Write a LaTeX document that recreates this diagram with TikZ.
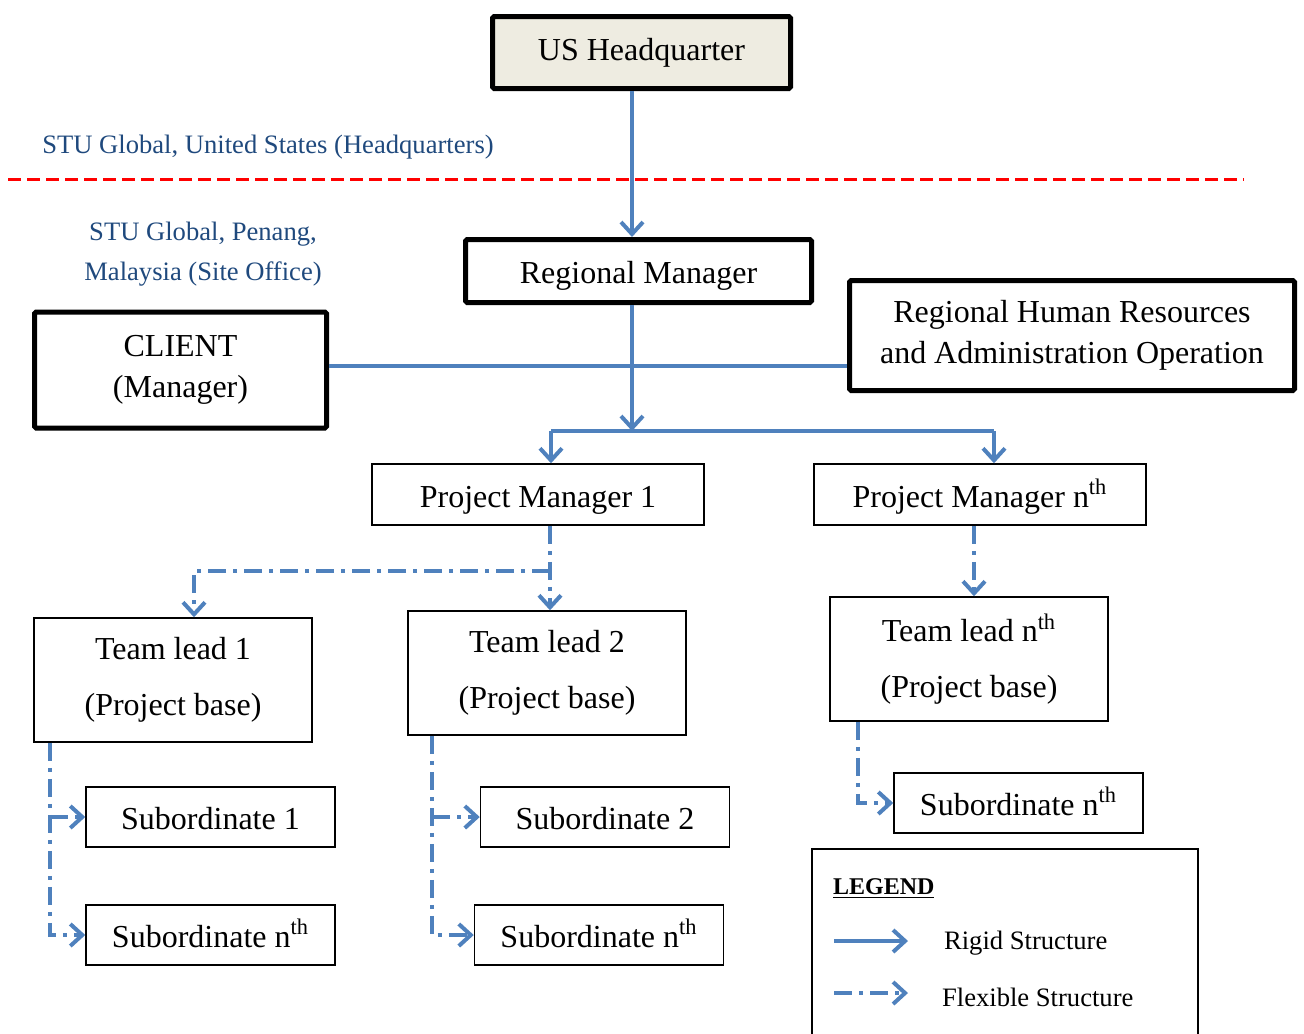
\documentclass[tikz,border=0pt]{standalone}
\usepackage{fontspec}
\setmainfont{Liberation Serif}
\usetikzlibrary{arrows.meta}
\definecolor{linkblue}{HTML}{4F81BD}
\definecolor{labelblue}{HTML}{1F497D}
\definecolor{hqfill}{HTML}{EEECE1}

\tikzset{
  mainbox/.style={draw, line width=2.5pt, rounded corners=0.8pt, align=center,
    font=\fontsize{16}{20.5}\selectfont, inner sep=0pt},
  plainbox/.style={draw, line width=0.75pt, align=center,
    font=\fontsize{16}{19}\selectfont, inner sep=0pt},
  oneline/.style={text height=12.5pt, text depth=0pt},
  pmbox/.style={plainbox, oneline, minimum width=166pt, minimum height=30.5pt},
  leadbox/.style={plainbox, font=\fontsize{16}{28}\selectfont,
    minimum width=139pt, minimum height=62pt},
  subbox/.style={plainbox, oneline, minimum width=124.5pt, minimum height=30pt},
  rigid/.style={linkblue, line width=2pt},
  flexible/.style={linkblue, line width=2pt,
    dash pattern=on 9pt off 3.5pt on 2pt off 3.5pt},
  tip/.style={-{Straight Barb[length=6pt,width=11pt]}},
  sitelabel/.style={labelblue, font=\fontsize{13.3}{20}\selectfont, align=center},
  legendtext/.style={font=\fontsize{13.3}{16}\selectfont, anchor=west},
}

\begin{document}
\begin{tikzpicture}[x=0.5pt,y=-0.5pt]
\useasboundingbox (0,0) rectangle (1304,1033);

% site boundary
\draw[red, line width=1.5pt, dash pattern=on 6.5pt off 3pt] (8,179) -- (1244,179);
\node[sitelabel] (hqsite) at (268,147) {STU Global, United States (Headquarters)};
\node[sitelabel] (pgsite) at (203,254) {STU Global, Penang,\\Malaysia (Site Office)};

% management boxes
\node[mainbox, fill=hqfill, minimum width=149pt, minimum height=36pt] (hq) at (641.5,52.5) {US Headquarter};
\node[mainbox, oneline, minimum width=173pt, minimum height=31.5pt] (rm) at (638.5,271) {Regional Manager};
\node[mainbox, minimum width=222.5pt, minimum height=55pt] (hr) at (1072,335.5) {Regional Human Resources\\and Administration Operation};
\node[mainbox, minimum width=146pt, minimum height=58pt] (client) at (180.5,370) {CLIENT\\(Manager)};

% project managers
\node[pmbox] (pm1) at (538,494.5) {Project Manager 1};
\node[pmbox] (pmn) at (980,494.5) {Project Manager n\textsuperscript{th}};

% team leads
\node[leadbox] (tl1) at (173,680) {Team lead 1\\(Project base)};
\node[leadbox] (tl2) at (547,673) {Team lead 2\\(Project base)};
\node[leadbox] (tln) at (969,659) {Team lead n\textsuperscript{th}\\(Project base)};

% subordinates
\node[subbox] (s1) at (210.5,817) {Subordinate 1};
\node[subbox] (sn1) at (210.5,935) {Subordinate n\textsuperscript{th}};
\node[subbox] (s2) at (605,817) {Subordinate 2};
\node[subbox] (sn2) at (599,935) {Subordinate n\textsuperscript{th}};
\node[subbox] (snr) at (1018.5,803) {Subordinate n\textsuperscript{th}};

% helper coordinates
\coordinate (xa) at (632,0);
\coordinate (busL) at (551,431);
\coordinate (busR) at (994,431);
\coordinate (mid) at (0,366);
\coordinate (fork) at (550,571);
\coordinate (forkL) at (194,571);
\coordinate (xn) at (974,0);
\coordinate (x1) at (50,0);
\coordinate (x2) at (432,0);
\coordinate (x3) at (858,0);

% rigid links
\draw[rigid, tip] (xa |- hq.south) -- (xa |- rm.north);
\draw[rigid, tip] (xa |- rm.south) -- (xa |- busL);
\draw[rigid] (client.east |- mid) -- (hr.west |- mid);
\draw[rigid] (busL) -- (busR);
\draw[rigid, tip] (busL) -- (busL |- pm1.north);
\draw[rigid, tip] (busR) -- (busR |- pmn.north);

% flexible links
\draw[flexible, tip] (fork |- pm1.south) -- (fork |- tl2.north);
\draw[flexible, tip] (fork) -- (forkL) -- (forkL |- tl1.north);
\draw[flexible, tip] (xn |- pmn.south) -- (xn |- tln.north);
\draw[flexible, tip] (x1 |- tl1.south) |- (sn1.west);
\draw[flexible, tip] (x1 |- s1.west) -- (s1.west);
\draw[flexible, tip] (x2 |- tl2.south) |- (sn2.west);
\draw[flexible, tip] (x2 |- s2.west) -- (s2.west);
\draw[flexible, tip] (x3 |- tln.south) |- (snr.west);

% legend
\draw[line width=1pt] (812,1045) -- (812,849) -- (1198,849) -- (1198,1045);
\node[anchor=west, font=\fontsize{12}{14}\selectfont\bfseries] (legtitle) at (826,889) {\underline{LEGEND}};
\coordinate (ra) at (834,941);
\coordinate (rb) at (908,941);
\coordinate (fa) at (834,993);
\coordinate (fb) at (908,993);
\draw[rigid, tip] (ra) -- (rb);
\draw[flexible, tip] (fa) -- (fb);
\node[legendtext] (rigidtxt) at (937,943) {Rigid Structure};
\node[legendtext] (flextxt) at (935,997) {Flexible Structure};
\end{tikzpicture}
\end{document}
